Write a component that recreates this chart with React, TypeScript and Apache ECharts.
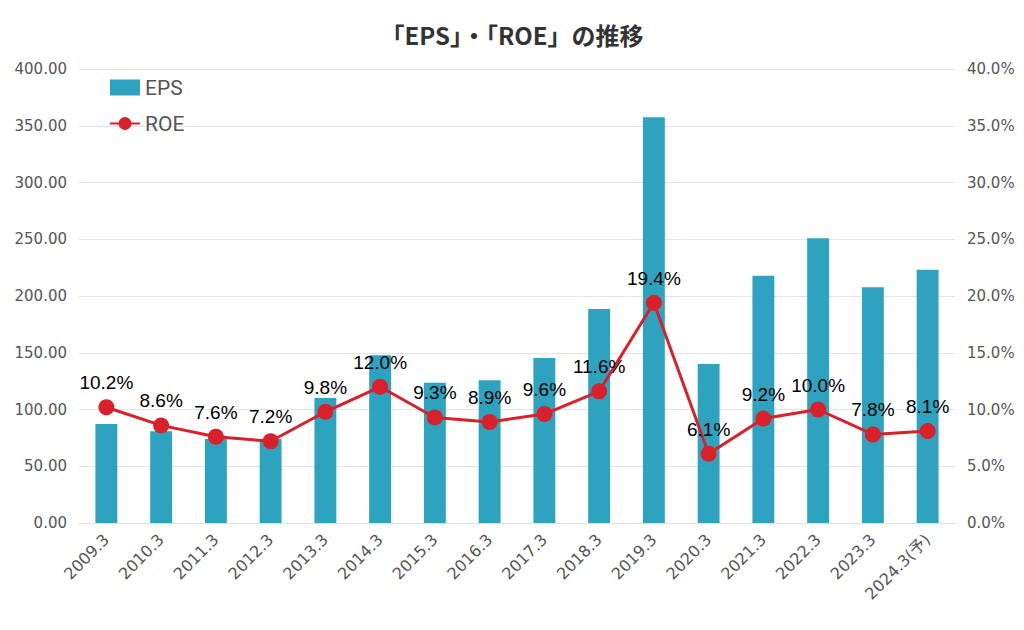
import React, { useEffect, useRef } from "react";
import * as echarts from "echarts";

const categories = [
  "2009.3", "2010.3", "2011.3", "2012.3", "2013.3", "2014.3", "2015.3", "2016.3",
  "2017.3", "2018.3", "2019.3", "2020.3", "2021.3", "2022.3", "2023.3", "2024.3(予)",
];
const epsValues = [87.3, 80.8, 74, 74, 110.2, 147.8, 123.5, 125.8, 145.4, 188.5, 357.4, 140, 217.9, 250.8, 207.6, 223.2];
const roeValues = [10.2, 8.6, 7.6, 7.2, 9.8, 12.0, 9.3, 8.9, 9.6, 11.6, 19.4, 6.1, 9.2, 10.0, 7.8, 8.1];

const titleText = "「EPS」・「ROE」の推移";
const AXFONT = "'DejaVu Sans', 'Noto Sans CJK JP', sans-serif";

export default function App() {
  const ref = useRef<HTMLDivElement>(null);
  useEffect(() => {
    if (!ref.current) return;
    const chart = echarts.init(ref.current, null, { renderer: "svg" });
    chart.setOption({
      animation: false,
      backgroundColor: "#ffffff",
      textStyle: { fontFamily: "'Liberation Sans', Arial, sans-serif" },
      title: {
        text: titleText,
        left: "center",
        top: 17,
        textStyle: { fontSize: 24, fontWeight: "bold", color: "#333333", fontFamily: "'Noto Sans CJK JP', sans-serif" },
      },
      legend: {
        orient: "vertical",
        left: 104,
        top: 72,
        itemGap: 15,
        itemWidth: 30,
        itemHeight: 16,
        textStyle: { fontSize: 21, color: "#555555", fontFamily: "'Liberation Sans Narrow', 'Roboto', sans-serif" },
        data: [
          { name: "EPS", icon: "rect" },
          { name: "ROE" },
        ],
      },
      grid: { left: 79, right: 69, top: 69, bottom: 107 },
      xAxis: {
        type: "category",
        data: categories,
        axisTick: { show: false },
        axisLine: { lineStyle: { color: "#e0e0e0" } },
        axisLabel: { rotate: 45, fontSize: 16, color: "#555555", margin: 14, interval: 0, fontFamily: AXFONT },
      },
      yAxis: [
        {
          type: "value",
          min: 0,
          max: 400,
          interval: 50,
          axisLabel: { fontSize: 15, color: "#555555", margin: 12, fontFamily: AXFONT, formatter: (v: number) => v.toFixed(2) },
          splitLine: { lineStyle: { color: "#e3e3e3" } },
          axisLine: { show: false },
          axisTick: { show: false },
        },
        {
          type: "value",
          min: 0,
          max: 40,
          interval: 5,
          axisLabel: { fontSize: 15, color: "#555555", margin: 12, fontFamily: AXFONT, formatter: (v: number) => v.toFixed(1) + "%" },
          splitLine: { show: false },
          axisLine: { show: false },
          axisTick: { show: false },
        },
      ],
      series: [
        {
          name: "EPS",
          type: "bar",
          data: epsValues,
          barWidth: "40%",
          itemStyle: { color: "#2ea3bf" },
        },
        {
          name: "ROE",
          type: "line",
          yAxisIndex: 1,
          data: roeValues,
          symbol: "circle",
          symbolSize: 16,
          lineStyle: { color: "#d9202b", width: 3 },
          itemStyle: { color: "#d9202b" },
          label: {
            show: true,
            position: "top",
            distance: 7,
            fontSize: 19,
            color: "#000000",
            formatter: (p: any) => p.value.toFixed(1) + "%",
          },
        },
      ],
    });
    return () => chart.dispose();
  }, []);
  return <div ref={ref} style={{ position: "fixed", left: 0, top: 0, width: 1024, height: 630 }} />;
}
